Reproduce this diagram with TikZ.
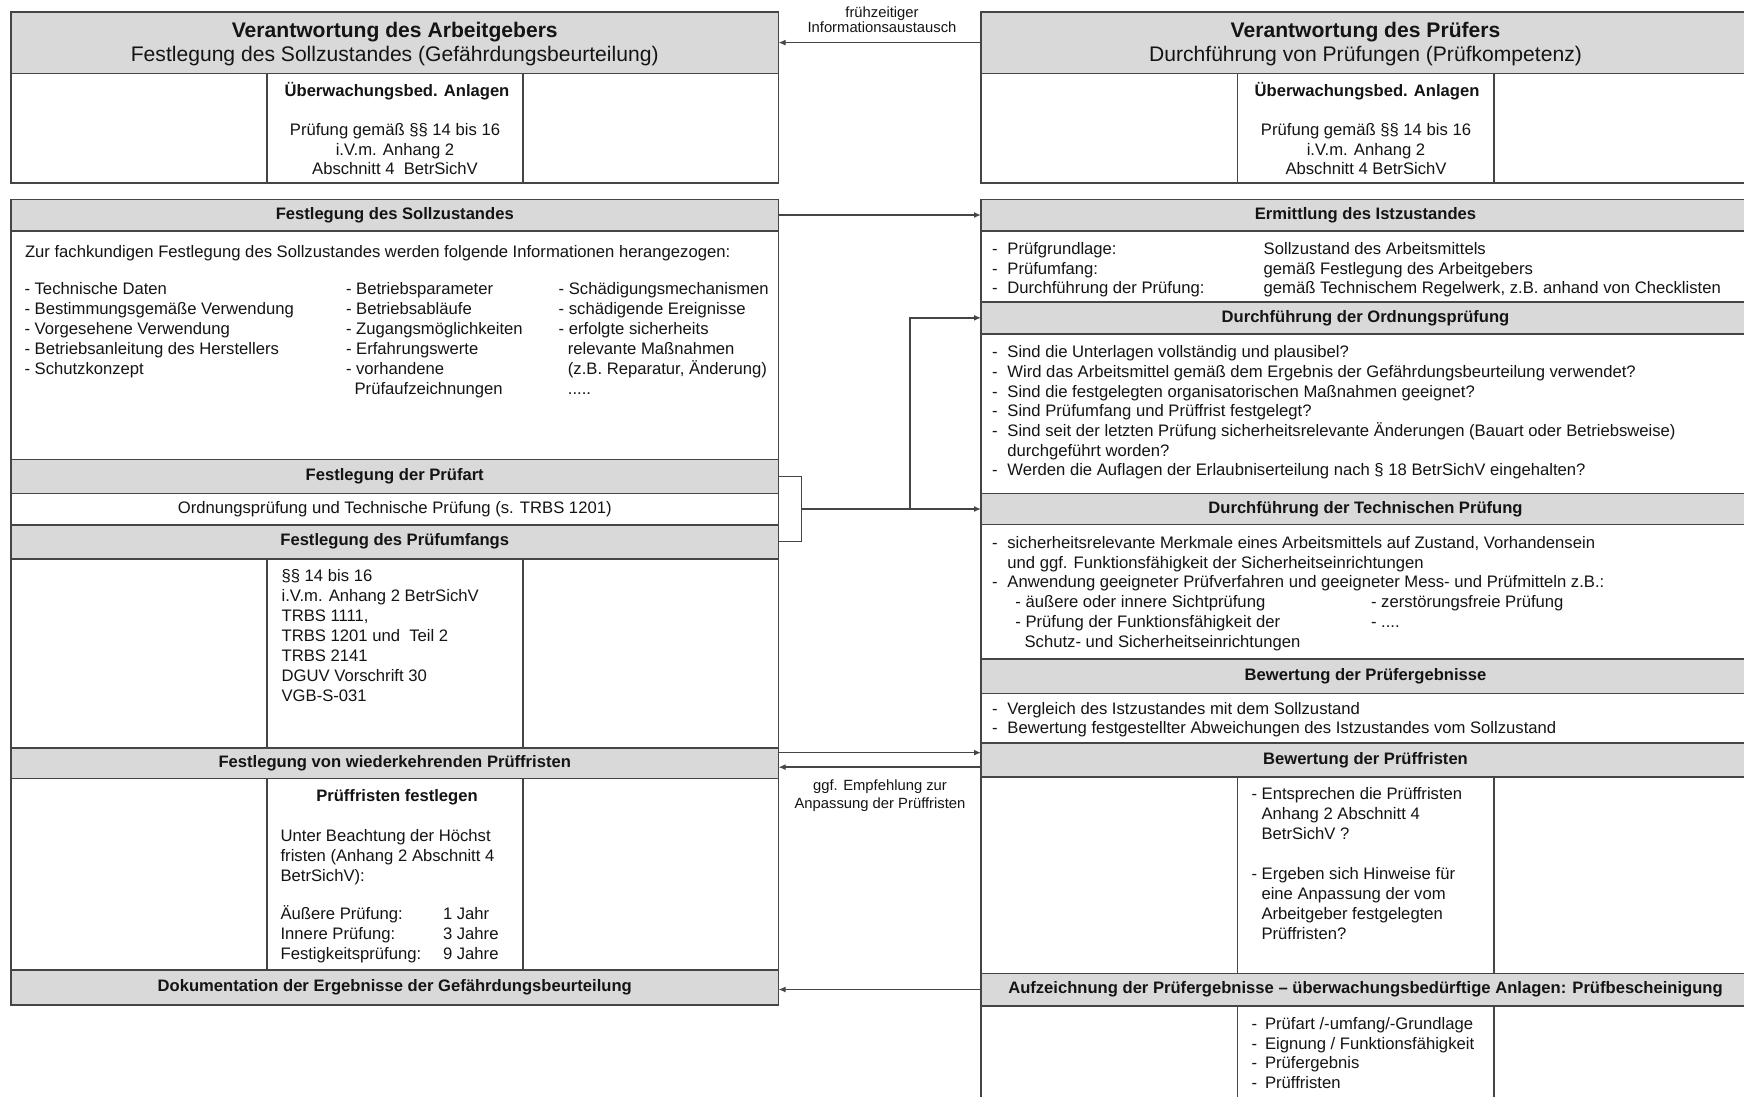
\documentclass[tikz,border=0pt]{standalone}
\usepackage{fontspec}
\setmainfont{Liberation Sans}
\usetikzlibrary{arrows.meta,calc}
\definecolor{bandgray}{HTML}{D9D9D9}
\definecolor{lineg}{HTML}{454545}
\definecolor{txtc}{HTML}{141414}
\begin{document}
\begin{tikzpicture}[x=1pt,y=-1pt,
  box/.style={draw=lineg, line width=1.6pt, fill=white, inner sep=0pt, outer sep=0pt, anchor=north west, text=txtc},
  band/.style={box, fill=bandgray, font=\fontsize{16.6}{20}\selectfont\bfseries},
  plainbox/.style={box, font=\fontsize{16.65}{20}\selectfont},
  body/.style={inner sep=0pt, outer sep=0pt, anchor=base west, font=\fontsize{16.65}{20}\selectfont, text=txtc},
  bodyc/.style={body, anchor=base},
  headtxt/.style={inner sep=0pt, outer sep=0pt, anchor=base, font=\fontsize{21.1}{24}\selectfont, text=txtc},
  small/.style={inner sep=0pt, outer sep=0pt, anchor=base, font=\fontsize{14.8}{18}\selectfont, text=txtc},
  arr/.style={draw=lineg, line width=1.4pt, -{Latex[length=7pt,width=6pt]}},
  con/.style={draw=lineg, line width=1.4pt},
]
\useasboundingbox (0,0) rectangle (1744,1096);
\clip (0,0) rectangle (1744,1096);

% ---------------- top header boxes ----------------
\node[band, minimum width=767.5, minimum height=61.8] (lHead) at (11,11.7) {};
\node[headtxt, font=\fontsize{21.1}{24}\selectfont\bfseries] (lHeadT1) at (394.75,37.8) {Verantwortung des Arbeitgebers};
\node[headtxt] (lHeadT2) at (394.75,61.8) {Festlegung des Sollzustandes (Gefährdungsbeurteilung)};
\node[box, minimum width=255.7, minimum height=109.5] (lTopA) at (11,73.5) {};
\node[box, minimum width=256.3, minimum height=109.5] (lTopB) at (266.7,73.5) {};
\node[box, minimum width=255.5, minimum height=109.5] (lTopC) at (523,73.5) {};
\node[bodyc, font=\fontsize{16.6}{20}\selectfont\bfseries] (lTopT0) at (397,96) {Überwachungsbed. Anlagen};
\node[bodyc] (lTopT1) at (395,135.3) {Prüfung gemäß §§ 14 bis 16};
\node[bodyc] (lTopT2) at (395,155) {i.V.m. Anhang 2};
\node[bodyc] (lTopT3) at (395,174.3) {Abschnitt 4\ \ BetrSichV};

\node[band, minimum width=769, minimum height=61.8] (rHead) at (981,11.7) {};
\node[headtxt, font=\fontsize{21.1}{24}\selectfont\bfseries] (rHeadT1) at (1365.5,37.8) {Verantwortung des Prüfers};
\node[headtxt] (rHeadT2) at (1365.5,61.8) {Durchführung von Prüfungen (Prüfkompetenz)};
\node[box, minimum width=256.5, minimum height=109.5] (rTopA) at (981,73.5) {};
\node[box, minimum width=256.5, minimum height=109.5] (rTopB) at (1237.5,73.5) {};
\node[box, minimum width=256, minimum height=109.5] (rTopC) at (1494,73.5) {};
\node[bodyc, font=\fontsize{16.6}{20}\selectfont\bfseries] (rTopT0) at (1367,96) {Überwachungsbed. Anlagen};
\node[bodyc] (rTopT1) at (1366,135.3) {Prüfung gemäß §§ 14 bis 16};
\node[bodyc] (rTopT2) at (1366,155) {i.V.m. Anhang 2};
\node[bodyc] (rTopT3) at (1366,174.3) {Abschnitt 4 BetrSichV};

% ---------------- left column ----------------
\node[band, minimum width=767.5, minimum height=31.4] (sollH) at (11,199.3) {Festlegung des Sollzustandes};
\node[box, minimum width=767.5, minimum height=228.6] (sollB) at (11,230.7) {};
\node[body] (sollIntro) at (25,257.7) {Zur fachkundigen Festlegung des Sollzustandes werden folgende Informationen herangezogen:};
\foreach \t [count=\i from 0] in {{- Technische Daten},{- Bestimmungsgemäße Verwendung},{- Vorgesehene Verwendung},{- Betriebsanleitung des Herstellers},{- Schutzkonzept}}
  \node[body] (sollA\i) at (24.5,{294.5+19.9*\i}) {\t};
\foreach \t [count=\i from 0] in {{- Betriebsparameter},{- Betriebsabläufe},{- Zugangsmöglichkeiten},{- Erfahrungswerte},{- vorhandene}}
  \node[body] (sollB\i) at (346,{294.5+19.9*\i}) {\t};
\node[body] (sollB5) at (354.6,{294.5+19.9*5}) {Prüfaufzeichnungen};
\foreach \t [count=\i from 0] in {{- Schädigungsmechanismen},{- schädigende Ereignisse},{- erfolgte sicherheits}}
  \node[body] (sollC\i) at (558.7,{294.5+19.9*\i}) {\t};
\node[body] (sollC3) at (567.9,{294.5+19.9*3}) {relevante Maßnahmen};
\node[body] (sollC4) at (567.9,{294.5+19.9*4}) {(z.B. Reparatur, Änderung)};
\node[body] (sollC5) at (567.9,{294.5+19.9*5}) {.....};

\node[band, minimum width=767.5, minimum height=34] (artH) at (11,459.3) {Festlegung der Prüfart};
\node[plainbox, minimum width=767.5, minimum height=31.4] (artB) at (11,493.3) {Ordnungsprüfung und Technische Prüfung (s. TRBS 1201)};
\node[band, minimum width=767.5, minimum height=34] (umfH) at (11,524.7) {Festlegung des Prüfumfangs};
\node[box, minimum width=255.7, minimum height=189.3] (umfA) at (11,558.7) {};
\node[box, minimum width=256.3, minimum height=189.3] (umfB) at (266.7,558.7) {};
\node[box, minimum width=255.5, minimum height=189.3] (umfC) at (523,558.7) {};
\foreach \t [count=\i from 0] in {{§§ 14 bis 16},{i.V.m. Anhang 2 BetrSichV},{TRBS 1111,},{TRBS 1201 und\ \ Teil 2},{TRBS 2141},{DGUV Vorschrift 30},{VGB-S-031}}
  \node[body] (umfT\i) at (281.6,{581+20*\i}) {\t};

\node[band, minimum width=767.5, minimum height=30.3] (wiedH) at (11,748) {Festlegung von wiederkehrenden Prüffristen};
\node[box, minimum width=255.7, minimum height=191.7] (wiedA) at (11,778.3) {};
\node[box, minimum width=256.3, minimum height=191.7] (wiedB) at (266.7,778.3) {};
\node[box, minimum width=255.5, minimum height=191.7] (wiedC) at (523,778.3) {};
\node[bodyc, font=\fontsize{16.6}{20}\selectfont\bfseries] (wiedT) at (397,801) {Prüffristen festlegen};
\node[body] (wiedU0) at (280.6,841) {Unter Beachtung der Höchst};
\node[body] (wiedU1) at (280.6,861) {fristen (Anhang 2 Abschnitt 4};
\node[body] (wiedU2) at (280.6,881) {BetrSichV):};
\node[body] (wiedL0) at (280.6,919.3) {Äußere Prüfung:};
\node[body] (wiedL1) at (280.6,939.3) {Innere Prüfung:};
\node[body] (wiedL2) at (280.6,959.3) {Festigkeitsprüfung:};
\node[body] (wiedR0) at (443,919.3) {1 Jahr};
\node[body] (wiedR1) at (443,939.3) {3 Jahre};
\node[body] (wiedR2) at (443,959.3) {9 Jahre};
\node[band, minimum width=767.5, minimum height=35] (dokH) at (11,970) {Dokumentation der Ergebnisse der Gefährdungsbeurteilung};

% ---------------- right column ----------------
\node[band, minimum width=769, minimum height=31.4] (ermH) at (981,199.3) {Ermittlung des Istzustandes};
\node[box, minimum width=769, minimum height=71] (ermB) at (981,230.7) {};
\node[body] (ermD0) at (992,254.3) {-};
\node[body] (ermD1) at (992,274.0) {-};
\node[body] (ermD2) at (992,293.7) {-};
\node[body] (ermL0) at (1007.4,254.3) {Prüfgrundlage:};
\node[body] (ermL1) at (1007.4,274.0) {Prüfumfang:};
\node[body] (ermL2) at (1007.4,293.7) {Durchführung der Prüfung:};
\node[body] (ermR0) at (1263.7,254.3) {Sollzustand des Arbeitsmittels};
\node[body] (ermR1) at (1263.7,274.0) {gemäß Festlegung des Arbeitgebers};
\node[body] (ermR2) at (1263.7,293.7) {gemäß Technischem Regelwerk, z.B. anhand von Checklisten};

\node[band, minimum width=769, minimum height=32.3] (ordH) at (981,301.7) {Durchführung der Ordnungsprüfung};
\node[box, minimum width=769, minimum height=159.3] (ordB) at (981,334) {};
\foreach \t [count=\i from 0] in {{Sind die Unterlagen vollständig und plausibel?},{Wird das Arbeitsmittel gemäß dem Ergebnis der Gefährdungsbeurteilung verwendet?},{Sind die festgelegten organisatorischen Maßnahmen geeignet?},{Sind Prüfumfang und Prüffrist festgelegt?},{Sind seit der letzten Prüfung sicherheitsrelevante Änderungen (Bauart oder Betriebsweise)},{durchgeführt worden?},{Werden die Auflagen der Erlaubniserteilung nach § 18 BetrSichV eingehalten?}}
  \node[body] (ordT\i) at (1007.4,{357.7+19.7*\i}) {\t};
\foreach \i in {0,1,2,3,4,6}
  \node[body] (ordD\i) at (992,{357.7+19.7*\i}) {-};

\node[band, minimum width=769, minimum height=31] (techH) at (981,493.3) {Durchführung der Technischen Prüfung};
\node[box, minimum width=769, minimum height=134.7] (techB) at (981,524.3) {};
\node[body] (techD0) at (992,548.3) {-};
\node[body] (techT0) at (1007.4,548.3) {sicherheitsrelevante Merkmale eines Arbeitsmittels auf Zustand, Vorhandensein};
\node[body] (techT1) at (1007.4,568.1) {und ggf. Funktionsfähigkeit der Sicherheitseinrichtungen};
\node[body] (techD2) at (992,587.9) {-};
\node[body] (techT2) at (1007.4,587.9) {Anwendung geeigneter Prüfverfahren und geeigneter Mess- und Prüfmitteln z.B.:};
\node[body] (techS0) at (1015.4,607.7) {- äußere oder innere Sichtprüfung};
\node[body] (techS1) at (1015.4,627.5) {- Prüfung der Funktionsfähigkeit der};
\node[body] (techS2) at (1024.6,647.3) {Schutz- und Sicherheitseinrichtungen};
\node[body] (techS3) at (1371,607.7) {- zerstörungsfreie Prüfung};
\node[body] (techS4) at (1371,627.5) {- ....};

\node[band, minimum width=769, minimum height=34.3] (bewH) at (981,659) {Bewertung der Prüfergebnisse};
\node[box, minimum width=769, minimum height=49.7] (bewB) at (981,693.3) {};
\node[body] (bewD0) at (992,714.3) {-};
\node[body] (bewD1) at (992,733.7) {-};
\node[body] (bewT0) at (1007.4,714.3) {Vergleich des Istzustandes mit dem Sollzustand};
\node[body] (bewT1) at (1007.4,733.7) {Bewertung festgestellter Abweichungen des Istzustandes vom Sollzustand};

\node[band, minimum width=769, minimum height=33.7] (pfH) at (981,743) {Bewertung der Prüffristen};
\node[box, minimum width=256.5, minimum height=196.6] (pfA) at (981,776.7) {};
\node[box, minimum width=256.5, minimum height=196.6] (pfB) at (1237.5,776.7) {};
\node[box, minimum width=256, minimum height=196.6] (pfC) at (1494,776.7) {};
\node[body] (pfT0) at (1251.5,799.3) {- Entsprechen die Prüffristen};
\node[body] (pfT1) at (1261.5,819.3) {Anhang 2 Abschnitt 4};
\node[body] (pfT2) at (1261.5,839.3) {BetrSichV ?};
\node[body] (pfT3) at (1251.5,879.3) {- Ergeben sich Hinweise für};
\node[body] (pfT4) at (1261.5,899.3) {eine Anpassung der vom};
\node[body] (pfT5) at (1261.5,919.3) {Arbeitgeber festgelegten};
\node[body] (pfT6) at (1261.5,939.3) {Prüffristen?};

\node[band, minimum width=769, minimum height=32.4] (aufH) at (981,973.3) {Aufzeichnung der Prüfergebnisse – überwachungsbedürftige Anlagen: Prüfbescheinigung};
\node[box, minimum width=256.5, minimum height=110] (aufA) at (981,1005.7) {};
\node[box, minimum width=256.5, minimum height=110] (aufB) at (1237.5,1005.7) {};
\node[box, minimum width=256, minimum height=110] (aufC) at (1494,1005.7) {};
\node[body] (aufD0) at (1251.5,1029.3) {-};
\node[body] (aufD1) at (1251.5,1049.0) {-};
\node[body] (aufD2) at (1251.5,1068.7) {-};
\node[body] (aufD3) at (1251.5,1088.4) {-};
\node[body] (aufT0) at (1265,1029.3) {Prüfart /-umfang/-Grundlage};
\node[body] (aufT1) at (1265,1049.0) {Eignung / Funktionsfähigkeit};
\node[body] (aufT2) at (1265,1068.7) {Prüfergebnis};
\node[body] (aufT3) at (1265,1088.4) {Prüffristen};

% ---------------- connectors ----------------
\draw[arr] (rHead.west) -- (lHead.east);
\node[small] (lblA1) at (882,17) {frühzeitiger};
\node[small] (lblA2) at (882,32) {Informationsaustausch};

\draw[arr] (sollH.east) -- (ermH.west);

\coordinate (brx) at (801.5,0);
\coordinate (brv) at (910,0);
\draw[con] (artH.east) -- (artH.east -| brx) -- (umfH.east -| brx) -- (umfH.east);
\coordinate (brm) at ($(artH.east -| brx)!0.5!(umfH.east -| brx)$);
\draw[arr] (brm) -- (brm -| techH.west);
\draw[arr] (brm -| brv) |- (ordH.west);

\coordinate (wA) at ($(wiedH.east)+(0,-10.5)$);
\draw[arr] (wA) -- (wA -| pfH.west);
\coordinate (wB) at ($(pfH.west)+(0,7.3)$);
\draw[arr] (wB) -- (wB -| wiedH.east);
\node[small] (lblB1) at (880,790.5) {ggf. Empfehlung zur};
\node[small] (lblB2) at (880,808.3) {Anpassung der Prüffristen};

\draw[arr] (aufH.west) -- (aufH.west -| dokH.east);
\end{tikzpicture}
\end{document}
